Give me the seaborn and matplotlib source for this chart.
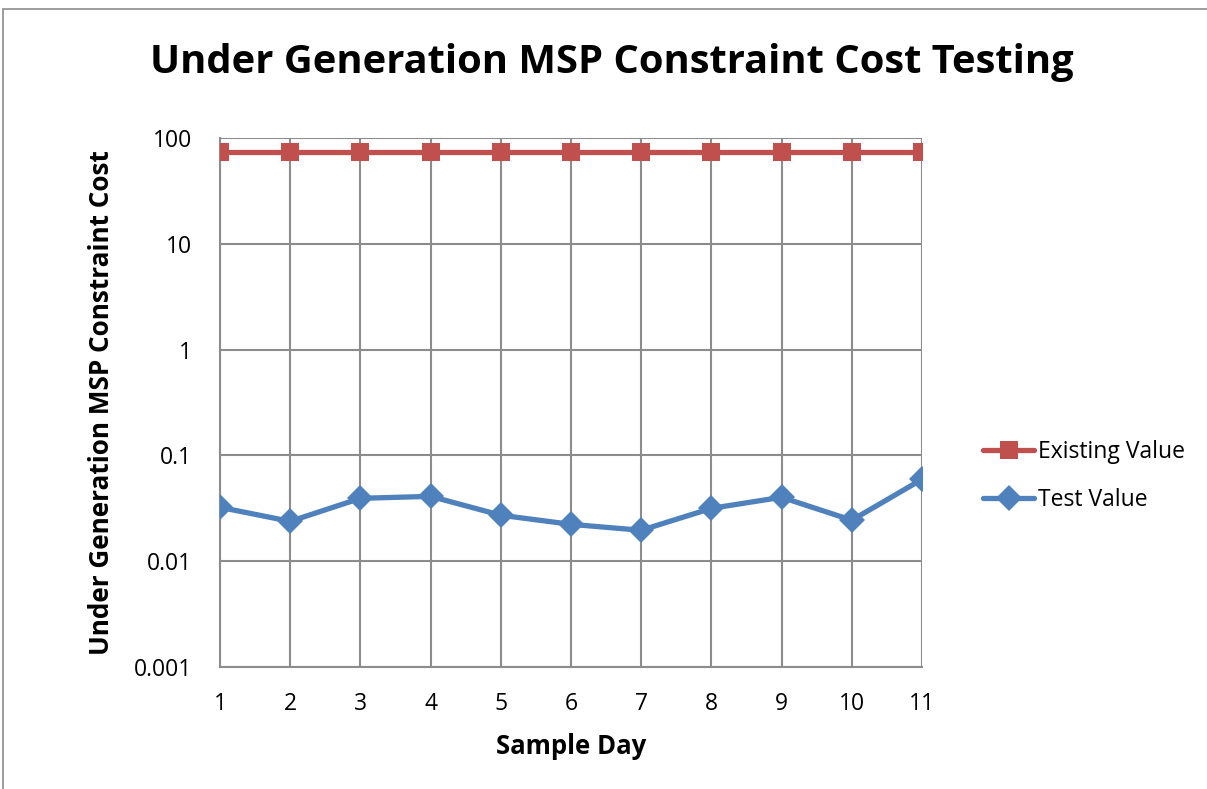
import matplotlib
matplotlib.use("Agg")
import matplotlib.pyplot as plt
import seaborn as sns
import pandas as pd
from matplotlib.patches import Rectangle

days = [1, 2, 3, 4, 5, 6, 7, 8, 9, 10, 11]
existing_value = [73, 73, 73, 73, 73, 73, 73, 73, 73, 73, 73]
test_value = [0.0323, 0.0238, 0.0393, 0.041, 0.0272, 0.0223, 0.0196, 0.0316, 0.0402, 0.0244, 0.0594]
y_ticks = [0.001, 0.01, 0.1, 1, 10, 100]
y_tick_labels = ["0.001", "0.01", "0.1", "1", "10", "100"]

sns.set_theme(style="white")
plt.rcParams['font.family'] = ['Open Sans', 'DejaVu Sans']
plt.rcParams['text.color'] = 'black'
plt.rcParams['axes.labelcolor'] = 'black'

df = pd.DataFrame({
    "day": days * 2,
    "value": existing_value + test_value,
    "series": ["Existing Value"] * len(days) + ["Test Value"] * len(days),
})

fig = plt.figure(figsize=(12.07, 7.89), dpi=100)
ax = fig.add_axes([220/1207, 1 - 667/789, (922-220)/1207, (667-138)/789])

palette = {"Existing Value": "#C0504D", "Test Value": "#4F81BD"}
markers = {"Existing Value": "s", "Test Value": "D"}
sns.lineplot(data=df, x="day", y="value", hue="series", style="series",
             palette=palette, markers=markers, dashes=False, linewidth=3.8,
             markersize=13, markeredgewidth=0, ax=ax, legend=True, zorder=3)

ax.set_yscale("log")
ax.set_ylim(0.001, 100)
ax.set_xlim(1, 11)
ax.set_yticks(y_ticks)
ax.set_yticklabels(y_tick_labels)
ax.minorticks_off()
ax.set_xticks(days)
ax.set_xticklabels([str(d) for d in days])
ax.grid(True, color="#8c8c8c", linewidth=1.5)
ax.set_axisbelow(True)
for s in ["top", "right"]:
    ax.spines[s].set_visible(False)
for s in ["left", "bottom"]:
    ax.spines[s].set_color("#8c8c8c")
    ax.spines[s].set_linewidth(1.5)
ax.tick_params(axis="both", labelsize=16.5, colors="black", length=0)
ax.tick_params(axis="x", pad=18)
ax.tick_params(axis="y", pad=20)
ax.set_xlabel("Sample Day", fontsize=18.5, fontweight="bold", labelpad=12, color="black")
ax.set_ylabel("Under Generation MSP Constraint Cost", fontsize=18.8, fontweight="bold",
              labelpad=14, color="black")

fig.text(612/1207, 1 - 62/789, "Under Generation MSP Constraint Cost Testing",
         fontsize=28.7, fontweight="bold", ha="center", va="center", color="black")

leg = ax.legend(loc="center left", bbox_to_anchor=(972/1207, 1 - 476/789),
                bbox_transform=fig.transFigure, frameon=False, fontsize=16.5,
                handlelength=2.2, handletextpad=0.2, labelspacing=1.05, borderpad=0)
for t in leg.get_texts():
    t.set_color("black")

fig.patches.append(Rectangle((3/1207, -0.1), 1.2, 1 - 9/789 + 0.1, transform=fig.transFigure,
                             fill=False, edgecolor="#8c8c8c", linewidth=1.2))

fig.savefig("out.png", dpi=100)
